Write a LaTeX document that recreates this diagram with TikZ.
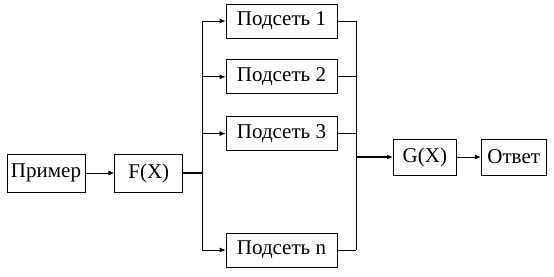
\documentclass[tikz,border=0pt]{standalone}
\usepackage{fontspec}
\setmainfont{Liberation Serif}
\usetikzlibrary{positioning,arrows.meta}

\begin{document}
\begin{tikzpicture}[x=1pt,y=1pt,
  font=\fontsize{21}{25}\selectfont,
  box/.style={rectangle,draw,line width=0.8pt,inner sep=2pt,minimum height=38pt},
  sub/.style={box,minimum width=111pt,minimum height=34pt},
  link/.style={-{Latex[length=6pt,width=5pt]},line width=0.8pt},
  bus/.style={line width=1.8pt}
]
\useasboundingbox (0,0) rectangle (554,276);
\node[box,minimum width=78pt] (prim) at (46,103) {Пример};
\node[box,minimum width=68pt,right=29pt of prim] (fx) {F(X)};
\coordinate (fork) at (202,103);

\node[sub] (sub1) at (281.5,255) {Подсеть 1};
\node[sub,below=21pt of sub1] (sub2) {Подсеть 2};
\node[sub,below=22pt of sub2] (sub3) {Подсеть 3};
\node[sub] (subn) at (281.5,26) {Подсеть n};

\coordinate (join) at (356,119);
\node[box,minimum width=63pt,minimum height=36pt,right=37pt of join] (gx) {G(X)};
\node[box,minimum width=65pt,minimum height=36pt,right=24pt of gx] (ans) {Ответ};

\draw[link] (prim) -- (fx);
\draw[bus] (fx) -- (fork);
\draw[line width=1pt] (fork |- sub1) -- (fork |- subn);
\foreach \s in {sub1,sub2,sub3,subn}
  \draw[link] (fork |- \s) -- (\s);
\foreach \s in {sub1,sub2,sub3,subn}
  \draw[line width=0.8pt] (\s) -- (join |- \s);
\draw[line width=1pt] (join |- sub1) -- (join |- subn);
\draw[link,bus] (join) -- (gx);
\draw[link] (gx) -- (ans);
\end{tikzpicture}
\end{document}
